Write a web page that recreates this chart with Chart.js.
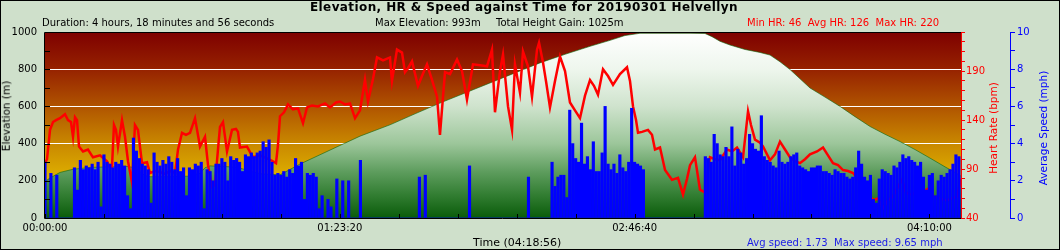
<!DOCTYPE html>
<html>
<head>
<meta charset="utf-8">
<script src="https://cdn.jsdelivr.net/npm/chart.js@4.4.1/dist/chart.umd.min.js"></script>
<style>
  body { margin: 0; background: #cfe0cb; }
  #wrap { position: relative; width: 1060px; height: 250px; background: #cfe0cb; font-family: 'DejaVu Sans', sans-serif; }
  #c { position: absolute; left: 0; top: 0; }
  #frame { position: absolute; left: 0; top: 0; width: 1060px; height: 250px; box-sizing: border-box; border: 1px solid #000; pointer-events: none; }
  .t { position: absolute; white-space: nowrap; line-height: 1; font-size: 10px; color: #000; }
  .rot { position: absolute; white-space: nowrap; line-height: 1; font-size: 10.5px; transform: translate(-50%, -50%) rotate(-90deg); }
</style>
</head>
<body>
<div id="wrap">
  <canvas id="c" width="1060" height="250"></canvas>
  <div class="t" style="left:310px;top:0.5px;font-size:12px;font-weight:bold;letter-spacing:0.4px;">Elevation, HR &amp; Speed against Time for 20190301 Helvellyn</div>
  <div class="t" style="left:42px;top:17.5px;">Duration: 4 hours, 18 minutes and 56 seconds</div>
  <div class="t" style="left:375px;top:17.5px;">Max Elevation: 993m</div>
  <div class="t" style="left:496px;top:17.5px;">Total Height Gain: 1025m</div>
  <div class="t" style="left:747px;top:17.5px;color:#f00;">Min HR: 46&nbsp; Avg HR: 126&nbsp; Max HR: 220</div>
  <div class="t" style="left:473px;top:236.7px;font-size:11px;">Time (04:18:56)</div>
  <div class="t" style="left:747px;top:237.5px;color:#1a1ae6;">Avg speed: 1.73&nbsp; Max speed: 9.65 mph</div>
  <div class="rot" style="left:5.5px;top:116px;color:#000;">Elevation (m)</div>
  <div class="rot" style="left:992.5px;top:127.5px;color:#f00;">Heart Rate (bpm)</div>
  <div class="rot" style="left:1042.5px;top:127.5px;color:#00f;">Average Speed (mph)</div>
  <div id="frame"></div>
</div>
<script>
/* ---- dados ---- */
const TOTAL_SECONDS = 15536;

/* Marcas do eixo de tempo (s): rótulo a cada 5000 s */
const TIME_TICKS = [0, 1000, 2000, 3000, 4000, 5000, 6000, 7000, 8000, 9000,
  10000, 11000, 12000, 13000, 14000, 15000];
const TIME_LABELS = [0, 5000, 10000, 15000];

/* Elevação (m) por tempo (s) */
const ELEV_T = [0, 85, 254, 475, 763, 1102, 1391, 1526, 1696, 1781, 2120, 2459, 2629, 2714, 2798,
  3138, 3307, 3562, 3680, 3986, 4325, 4664, 5003, 5343, 5851, 6275, 6699, 7123, 7547, 7971,
  8395, 8820, 9244, 9583, 9837, 10091, 10940, 11194, 11313, 11448, 11618, 11872, 12127, 12297,
  12466, 12636, 12975, 13229, 13484, 13738, 13993, 14247, 14501, 14756, 15010, 15265, 15434, 15536];
const ELEV_M = [196, 215, 245, 262, 272, 275, 277, 270, 228, 222, 222, 225, 240, 270, 280,
  275, 268, 245, 237, 232, 290, 340, 390, 440, 501, 560, 618, 672, 726, 780,
  834, 880, 923, 955, 981, 993, 993, 992, 975, 950, 930, 906, 890, 876,
  840, 798, 699, 650, 600, 545, 492, 450, 411, 368, 322, 275, 245, 225];

/* Frequência cardíaca (bpm) por tempo (s) */
const HR_T = [0, 34, 85, 136, 187, 254, 339, 390, 441, 475, 509, 543, 577, 645, 729, 814, 933,
  1052, 1102, 1136, 1170, 1204, 1238, 1306, 1357, 1408, 1476, 1526, 1577, 1645, 1730, 1781,
  1866, 1950, 2035, 2120, 2205, 2256, 2324, 2391, 2459, 2544, 2629, 2714, 2765, 2832, 2883,
  2934, 2968, 3019, 3087, 3172, 3239, 3273, 3307, 3426, 3528, 3647, 3765, 3867, 3918, 3952,
  3986, 4054, 4121, 4206, 4291, 4376, 4444, 4528, 4630, 4749, 4834, 4936, 5003, 5088, 5173,
  5258, 5343, 5427, 5478, 5563, 5631, 5733, 5851, 5885, 5970, 6055, 6106, 6157, 6225, 6326,
  6394, 6479, 6564, 6649, 6699, 6784, 6869, 6988, 7073, 7157, 7259, 7378, 7497, 7581, 7632,
  7717, 7768, 7853, 7921, 7971, 8056, 8107, 8192, 8260, 8345, 8379, 8446, 8497, 8565, 8650,
  8735, 8820, 8904, 8989, 9074, 9159, 9244, 9311, 9379, 9464, 9549, 9634, 9752, 9871, 9922,
  9973, 10024, 10058, 10126, 10227, 10295, 10346, 10431, 10516, 10634, 10736, 10821, 10889,
  10940, 11024, 11109, 11194, 11279, 11364, 11448, 11567, 11652, 11737, 11839, 11924, 11974,
  12042, 12127, 12178, 12297, 12381, 12466, 12551, 12636, 12721, 12805, 12890, 12975, 13094,
  13196, 13280, 13365, 13450, 13535, 13620, 13705, 13823, 13942, 14044, 14128, 14213, 14298,
  14383, 14450, 14535, 14603, 14671, 14807, 14926, 15011, 15061, 15180, 15299, 15384, 15468, 15536];
const HR_BPM = [96, 100, 130, 138, 140, 142, 146, 140, 138, 123, 143, 140, 113, 108, 110, 102, 104,
  98, 91, 92, 135, 130, 113, 140, 123, 98, 76, 135, 130, 96, 97, 86,
  88, 87, 85, 88, 86, 110, 127, 125, 127, 142, 113, 123, 94, 72, 74,
  110, 133, 138, 108, 130, 131, 128, 112, 113, 102, 104, 101, 98, 96, 115,
  144, 148, 156, 151, 152, 137, 153, 155, 154, 157, 153, 158, 159, 156, 157,
  142, 150, 181, 159, 182, 204, 201, 204, 180, 212, 209, 189, 193, 200, 175,
  185, 197, 181, 164, 125, 189, 187, 202, 190, 161, 197, 196, 195, 212, 148,
  190, 207, 154, 130, 197, 168, 210, 195, 164, 212, 219, 199, 180, 153, 180,
  205, 190, 158, 150, 142, 165, 181, 175, 166, 192, 185, 176, 187, 194, 180,
  154, 140, 127, 128, 130, 125, 110, 112, 89, 79, 81, 64, 80,
  94, 102, 69, 66, 102, 100, 99, 110, 108, 112, 102, 149, 135,
  120, 117, 113, 99, 105, 118, 110, 102, 98, 96, 100, 105, 108,
  112, 104, 96, 94, 89, 88, 86, 77, 66, 58, 60, 50, 58,
  62, 70, 79, 66, 64, 66, 68, 71, 62, 60, 58, 60, 62, 80];

/* Velocidade média (mph), uma barra a cada 50 s */
const SPEED_STEP = 50;
const SPEED_MPH = [
  3.0, 0, 2.4, 0, 2.3, 0, 0, 0, 0, 0, 2.7, 1.5, 3.1, 2.6, 2.8, 2.7, 2.9, 2.6, 3.0, 0.6,
  3.4, 3.0, 2.9, 2.7, 3.0, 2.9, 3.1, 2.8, 1.2, 0.5, 4.3, 3.6, 3.2, 2.9, 2.8, 2.6, 0.8, 3.5, 3.0, 2.8,
  3.1, 2.9, 3.3, 3.0, 2.6, 3.2, 2.5, 2.7, 1.2, 2.7, 2.6, 2.9, 2.8, 3.0, 0.5, 2.6, 2.5, 2.0, 2.9, 2.9,
  3.2, 3.0, 2.0, 3.3, 3.1, 3.2, 3.0, 2.5, 3.4, 3.3, 3.5, 3.3, 3.5, 3.6, 4.1, 3.8, 4.2, 3.0, 2.3, 2.4,
  2.3, 2.5, 2.2, 2.6, 2.4, 3.2, 2.8, 3.0, 1.0, 2.4, 2.3, 2.4, 2.2, 0.5, 1.2, 0, 1.0, 0.6, 0, 2.1,
  0, 2.0, 0, 2.0, 0, 0, 0, 3.1, 0, 0, 0, 0, 0, 0, 0, 0, 0, 0, 0, 0,
  0, 0, 0, 0, 0, 0, 0, 2.2, 0, 2.3, 0, 0, 0, 0, 0, 0, 0, 0, 0, 0,
  0, 0, 0, 0, 2.8, 0, 0, 0, 0, 0, 0, 0, 0, 0, 0, 0, 0, 0, 0, 0,
  0, 0, 0, 0, 2.2, 0, 0, 0, 0, 0, 0, 0, 3.0, 1.7, 2.2, 2.3, 2.3, 1.1, 5.8, 4.0,
  3.2, 3.0, 5.1, 2.9, 3.3, 2.6, 4.1, 2.5, 2.5, 3.5, 6.0, 2.9, 2.6, 2.9, 2.4, 3.4, 2.7, 2.5, 3.0, 5.9,
  3.0, 2.9, 2.8, 2.6, 0, 0, 0, 0, 0, 0, 0, 0, 0, 0, 0, 0, 0, 0, 0, 0,
  0, 0, 0, 0, 3.3, 3.2, 3.0, 4.5, 4.0, 3.4, 3.3, 3.8, 3.3, 4.9, 2.8, 3.7, 3.5, 2.9, 3.2, 4.5,
  4.0, 3.7, 3.6, 5.5, 3.3, 3.1, 3.0, 2.8, 2.7, 3.6, 3.0, 2.9, 3.0, 3.3, 3.4, 3.5, 2.8, 2.7, 2.6, 2.5,
  2.7, 2.7, 2.8, 2.8, 2.5, 2.5, 2.4, 2.3, 2.6, 2.5, 2.4, 2.4, 2.2, 2.1, 2.2, 2.7, 3.6, 2.9, 2.2, 2.0,
  2.3, 1.0, 0.8, 2.1, 2.6, 2.5, 2.4, 2.3, 2.8, 2.7, 3.0, 3.4, 3.2, 3.3, 3.1, 3.0, 2.8, 3.0, 2.2, 1.5,
  2.3, 2.4, 1.2, 2.0, 2.3, 2.2, 2.4, 2.6, 2.9, 3.4, 3.3
];

/* Formata segundos como hh:mm:ss */
function hms(s) {
  const h = Math.floor(s / 3600), m = Math.floor((s % 3600) / 60), sec = s % 60;
  return [h, m, sec].map(n => String(n).padStart(2, '0')).join(':');
}

/* Gradientes verticais da área do gráfico */
function bgGradient(ctx, a) {
  const g = ctx.createLinearGradient(0, a.top, 0, a.bottom);
  g.addColorStop(0, '#7e0000');
  g.addColorStop(0.2, '#962200');
  g.addColorStop(0.4, '#b05400');
  g.addColorStop(0.6, '#c98800');
  g.addColorStop(0.8, '#e0b400');
  g.addColorStop(1, '#f0d400');
  return g;
}

function elevGradient(context) {
  const a = context.chart.chartArea;
  if (!a) return '#3a8a3a';
  const g = context.chart.ctx.createLinearGradient(0, a.top, 0, a.bottom);
  g.addColorStop(0, '#ffffff');
  g.addColorStop(0.2, '#eef6ed');
  g.addColorStop(0.4, '#cfe3cd');
  g.addColorStop(0.6, '#9cc69a');
  g.addColorStop(0.75, '#5e9d5e');
  g.addColorStop(0.87, '#347f34');
  g.addColorStop(1, '#0a5c0a');
  return g;
}

/* Fundo, marcas internas e moldura */
const plotDecor = {
  id: 'plotDecor',
  beforeDraw(chart) {
    const { ctx, chartArea: a } = chart;
    ctx.save();
    ctx.fillStyle = bgGradient(ctx, a);
    ctx.fillRect(a.left, a.top, a.width, a.height);
    ctx.restore();
  },
  afterDatasetsDraw(chart) {
    const { ctx, chartArea: a, scales } = chart;
    ctx.save();
    ctx.lineWidth = 1;
    ctx.strokeStyle = '#000';
    ctx.beginPath();
    scales.yElev.ticks.forEach(t => {
      const y = Math.round(scales.yElev.getPixelForValue(t.value)) + 0.5;
      ctx.moveTo(a.left, y);
      ctx.lineTo(a.left + 5, y);
    });
    scales.x.ticks.forEach(t => {
      const x = Math.round(scales.x.getPixelForValue(t.value)) + 0.5;
      ctx.moveTo(x, a.bottom);
      ctx.lineTo(x, a.bottom - 4);
    });
    ctx.moveTo(a.right, a.top + 0.5);
    ctx.lineTo(a.left - 0.5, a.top + 0.5);
    ctx.lineTo(a.left - 0.5, a.bottom + 0.5);
    ctx.lineTo(a.right, a.bottom + 0.5);
    ctx.stroke();
    ctx.strokeStyle = '#f00';
    ctx.beginPath();
    ctx.moveTo(a.right + 0.5, a.top);
    ctx.lineTo(a.right + 0.5, a.bottom + 1);
    ctx.stroke();
    ctx.restore();
  }
};

Chart.defaults.font.family = "'DejaVu Sans', sans-serif";
Chart.defaults.font.size = 10;

new Chart(document.getElementById('c'), {
  type: 'line',
  data: {
    datasets: [
      {
        label: 'Speed',
        type: 'bar',
        yAxisID: 'ySpeed',
        data: SPEED_MPH.map((v, i) => ({ x: i * SPEED_STEP, y: v })),
        backgroundColor: '#0000ff',
        borderWidth: 0,
        barThickness: 2.5,
        order: 1,
      },
      {
        label: 'HR',
        yAxisID: 'yHr',
        data: HR_T.map((t, i) => ({ x: t, y: HR_BPM[i] })),
        borderColor: '#ff0000',
        borderWidth: 2.5,
        pointRadius: 0,
        tension: 0,
        order: 2,
      },
      {
        label: 'Elevation',
        yAxisID: 'yElev',
        data: ELEV_T.map((t, i) => ({ x: t, y: ELEV_M[i] })),
        borderColor: 'rgba(11,101,11,0.6)',
        borderWidth: 1,
        backgroundColor: elevGradient,
        fill: 'origin',
        pointRadius: 0,
        tension: 0,
        order: 3,
      },
    ],
  },
  options: {
    responsive: false,
    animation: false,
    events: [],
    layout: { padding: { top: 32, right: 0, bottom: 0, left: 0 } },
    plugins: {
      legend: { display: false },
      title: { display: false },
      tooltip: { enabled: false },
    },
    scales: {
      x: {
        type: 'linear',
        min: 0,
        max: TOTAL_SECONDS,
        offset: false,
        afterFit: s => { s.height = 32; },
        afterBuildTicks: s => { s.ticks = TIME_TICKS.map(v => ({ value: v })); },
        ticks: {
          autoSkip: false,
          maxRotation: 0,
          padding: 4,
          color: '#000',
          callback: v => (TIME_LABELS.includes(v) ? hms(v) : ''),
        },
        grid: { drawOnChartArea: false, drawTicks: false },
        border: { display: false },
      },
      yElev: {
        position: 'left',
        min: 0,
        max: 1000,
        afterFit: s => { s.width = 45; },
        ticks: {
          stepSize: 100,
          autoSkip: false,
          padding: 8,
          color: '#000',
          callback: v => (v % 200 === 0 ? v : ''),
        },
        grid: {
          drawTicks: false,
          color: c => (c.tick && c.tick.value % 200 === 0 && c.tick.value > 0 && c.tick.value < 1000)
            ? '#ffffff' : 'rgba(0,0,0,0)',
        },
        border: { display: false },
      },
      yHr: {
        position: 'right',
        weight: 0,
        min: 40,
        max: 230,
        afterFit: s => { s.width = 49; },
        ticks: {
          stepSize: 10,
          autoSkip: false,
          padding: 1,
          color: '#ff0000',
          callback: v => ((v - 40) % 50 === 0 ? v : ''),
        },
        grid: { drawOnChartArea: false, tickLength: 4, color: '#ff0000' },
        border: { color: '#ff0000' },
      },
      ySpeed: {
        position: 'right',
        weight: 1,
        min: 0,
        max: 10,
        afterFit: s => { s.width = 50; },
        ticks: {
          stepSize: 1,
          autoSkip: false,
          padding: 2,
          color: '#0000ff',
          callback: v => (v % 2 === 0 ? v : ''),
        },
        grid: { drawOnChartArea: false, tickLength: 5, color: '#0000ff' },
        border: { color: '#0000ff' },
      },
    },
  },
  plugins: [plotDecor],
});
</script>
</body>
</html>
